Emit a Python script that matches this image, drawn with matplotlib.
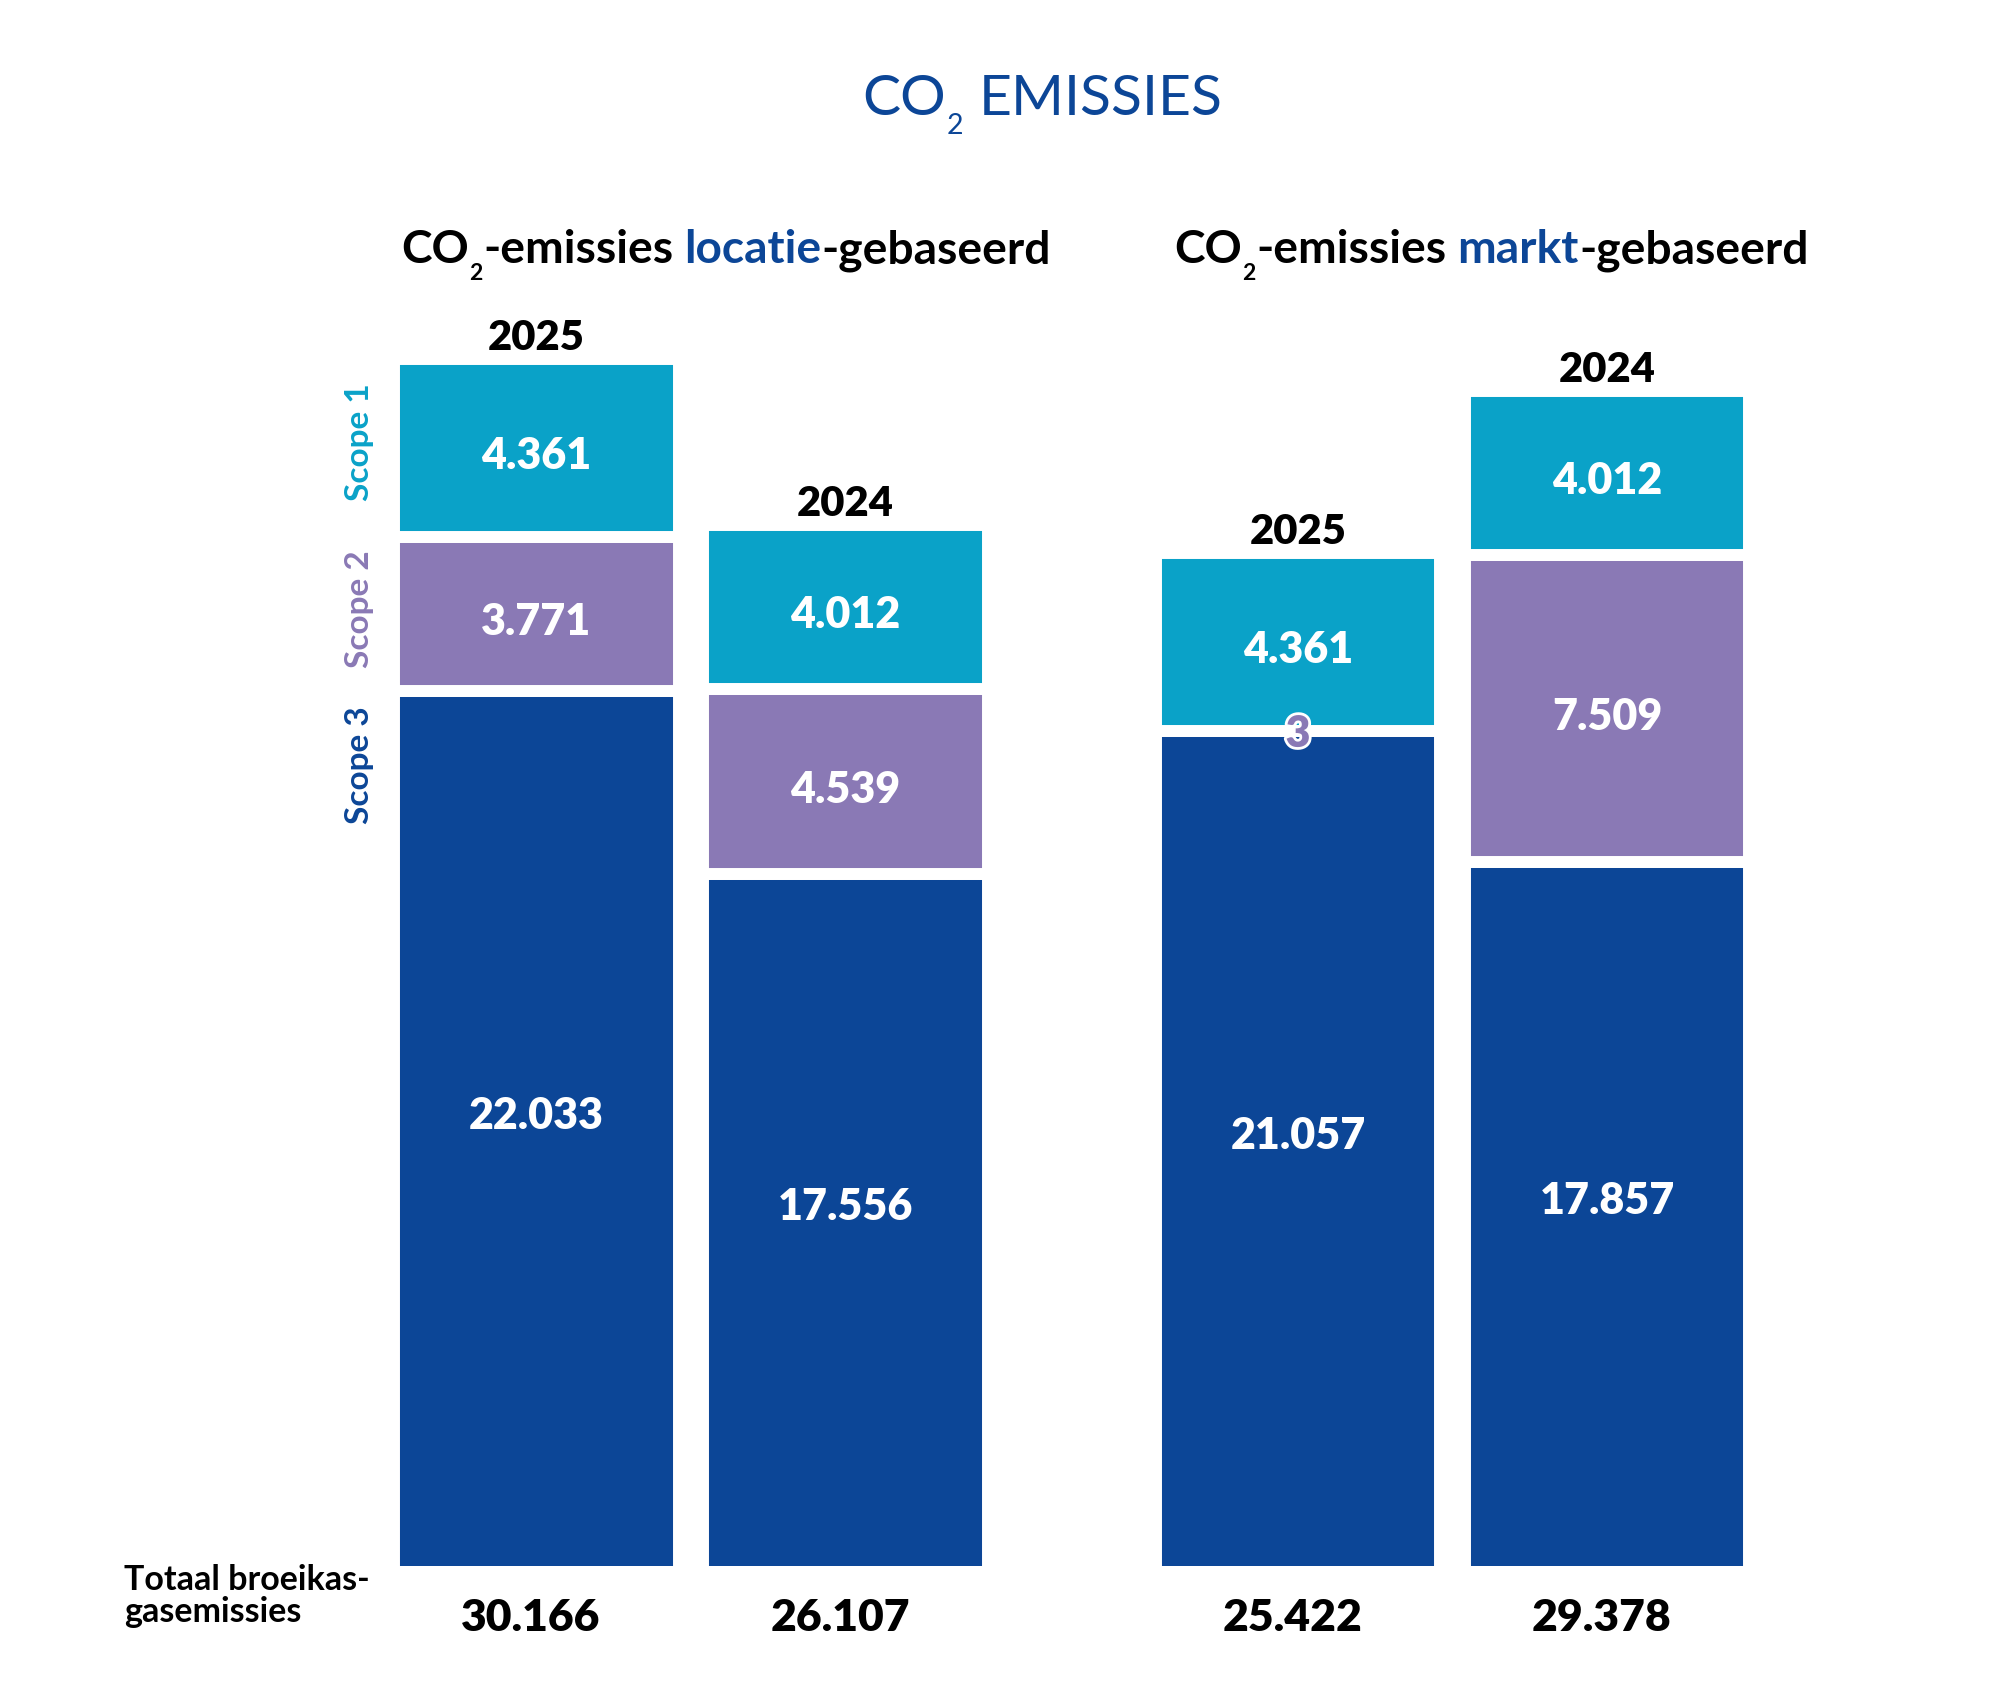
import matplotlib
matplotlib.use("Agg")
import matplotlib.pyplot as plt
import matplotlib.patheffects as pe

# values in tonnes CO2
groups = ["locatie", "markt"]
years = ["2025", "2024", "2025", "2024"]
bar_group = [0, 0, 1, 1]
scope1 = [4361, 4012, 4361, 4012]
scope2 = [3771, 4539, 3, 7509]
scope3 = [22033, 17556, 21057, 17857]
totals = [30166, 26107, 25422, 29378]   # as printed in the source
scope_names = ["Scope 1", "Scope 2", "Scope 3"]

C_S1 = "#0aa2c8"
C_S2 = "#8a79b5"
C_S3 = "#0c4697"
NAVY = "#0c4697"

W, H = 2011, 1688
FONT = "Lato"
plt.rcParams["font.family"] = [FONT, "DejaVu Sans"]


def fmt(v):
    return f"{v:,}".replace(",", ".")


def fx(px):
    return px / W


def fy(py):
    return 1 - py / H


fig = plt.figure(figsize=(W / 100, H / 100), dpi=100)
renderer = fig.canvas.get_renderer()


def text_width(s, size, weight):
    t = fig.text(0, 0, s, fontsize=size, fontweight=weight)
    w = t.get_window_extent(renderer=renderer).width
    t.remove()
    return w


def rich_text(x_px, base_px, pieces, size, weight):
    """pieces: (text, color, size_factor, drop_px, gap_before_in_spaces)"""
    space = text_width("x x", size, weight) - text_width("xx", size, weight)
    x = x_px
    for txt, color, sf, drop, gap in pieces:
        x += gap * space
        t = fig.text(fx(x), fy(base_px + drop), txt, color=color,
                     fontsize=size * sf, fontweight=weight,
                     ha="left", va="baseline")
        x = t.get_window_extent(renderer=renderer).x1


# main title
rich_text(862, 115, [("CO", NAVY, 1, 0, 0), ("2", NAVY, 0.5, 19, 0.1),
                     ("EMISSIES", NAVY, 1, 0, 1)], 41, "normal")

# sub titles
for x0, word in [(401, groups[0]), (1174, groups[1])]:
    rich_text(x0, 263, [("CO", "black", 1, 0, 0), ("2", "black", 0.5, 17, 0.05),
                        ("-emissies", "black", 1, 0, 0.05),
                        (word, NAVY, 1, 0, 1),
                        ("-gebaseerd", "black", 1, 0, 0)], 33.2, "bold")

# bars (value axis starts a little above zero, like the source)
ax = fig.add_axes([0, 0.07227, 1, 0.8324])
GROUP_STEP = 2.4644
xs = [g * GROUP_STEP + (i % 2) for i, g in enumerate(bar_group)]
bw = 0.922
edge_lw = 8.6

ax.bar(xs, scope3, bw, color=C_S3, edgecolor="white", linewidth=edge_lw)
bottom2 = scope3
ax.bar(xs, scope2, bw, bottom=bottom2, color=C_S2, edgecolor="white",
       linewidth=edge_lw)
bottom1 = [a + b for a, b in zip(scope3, scope2)]
ax.bar(xs, scope1, bw, bottom=bottom1, color=C_S1, edgecolor="white",
       linewidth=edge_lw)

ax.set_xlim(-1.7362, 4.7718)
ax.set_ylim(636, 35000)
ax.axis("off")

# segment labels
for vals, bots, col, dy in [(scope3, [636] * 4, C_S3, 0),
                            (scope2, bottom2, C_S2, -6),
                            (scope1, bottom1, C_S1, -6)]:
    for x, v, b in zip(xs, vals, bots):
        if v > 1000:
            ax.annotate(fmt(v), (x, b + v / 2), xytext=(0, dy),
                        textcoords="offset points", ha="center", va="center",
                        color="white", fontsize=31, fontweight="heavy")
        else:
            ax.annotate(fmt(v), (x, b + v / 2), xytext=(0, -2),
                        textcoords="offset points", ha="center", va="center",
                        color=col, fontsize=31, fontweight="heavy",
                        path_effects=[pe.withStroke(linewidth=4,
                                                    foreground="white")])

# year labels and totals
for x, yr, top, tot in zip(xs, years, [a + b for a, b in zip(bottom1, scope1)],
                           totals):
    ax.annotate(yr, (x, top), xytext=(0, 6), textcoords="offset points",
                ha="center", va="baseline", fontsize=30, fontweight="heavy",
                color="black")
    ax.annotate(fmt(tot), (x, 0), xycoords=("data", "axes fraction"),
                xytext=(-4, -46.8), textcoords="offset points",
                ha="center", va="baseline", fontsize=32, fontweight="heavy",
                color="black", annotation_clip=False)

# scope labels on the left
for name, col, ypx in zip(scope_names, [C_S1, C_S2, C_S3], [442, 609, 765]):
    fig.text(fx(359), fy(ypx), name, rotation=90, ha="center", va="center",
             color=col, fontsize=24, fontweight="bold")

fig.text(fx(124), fy(1590), "Totaal broeikas-", ha="left", va="baseline",
         fontsize=24.5, fontweight="bold")
fig.text(fx(124), fy(1622), "gasemissies", ha="left", va="baseline",
         fontsize=24.5, fontweight="bold")

fig.savefig("out.png", dpi=100)
